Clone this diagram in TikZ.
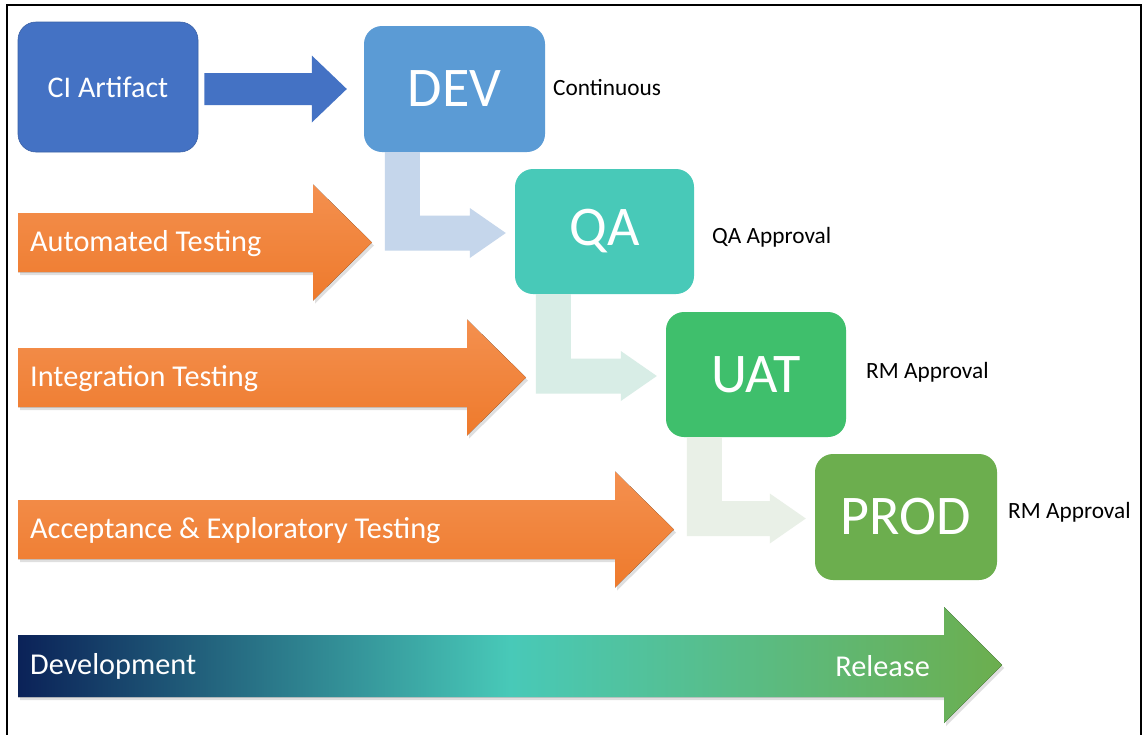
\documentclass[tikz,border=0pt]{standalone}
\usepackage{fontspec}
\setmainfont{Carlito}
\usetikzlibrary{calc,shadows}
\definecolor{ciblue}{HTML}{4472C4}
\definecolor{devblue}{HTML}{5B9BD5}
\definecolor{qateal}{HTML}{48C9B8}
\definecolor{uatgreen}{HTML}{3FBF6C}
\definecolor{prodgreen}{HTML}{6CAE4E}
\definecolor{elbowA}{HTML}{C5D6EB}
\definecolor{elbowB}{HTML}{D8EDE6}
\definecolor{elbowC}{HTML}{E9F0E7}
\definecolor{orangeTop}{HTML}{F4904F}
\definecolor{orangeBot}{HTML}{EE7A2C}
\definecolor{navy}{HTML}{0B2258}
\newcommand{\elbowarrow}[4]{%
  \coordinate (#4s) at ($(#2.south west)+(21,0)$);
  \coordinate (#4t) at ($(#3.west)+(-9,1.5)$);
  \fill[#1] (#4s) -- ++(35,0) |- ($(#4t)+(-36,-17.5)$) -- ($(#4t)+(-36,-25)$) -- (#4t)
     -- ($(#4t)+(-36,25)$) -- ($(#4t)+(-36,17.5)$) -| (#4s) -- cycle;}
\newcommand{\orangearrow}[4]{%
  \fill[top color=orangeTop, bottom color=orangeBot,
        drop shadow={opacity=0.25, shadow xshift=2pt, shadow yshift=-3pt}]
     (18,{#3-29.5}) -- (#2,{#3-29.5}) -- (#2,{#3-58}) -- ({#2+59},#3)
     -- (#2,{#3+58}) -- (#2,{#3+29.5}) -- (18,{#3+29.5}) -- cycle;
  \node[bandtext, anchor=west] (#1) at (30,{#3+1}) {#4};}
\begin{document}
\begin{tikzpicture}[x=1pt,y=-1pt,
  stagebox/.style={rounded corners=18pt, inner sep=0pt, text=white,
                   font=\fontsize{56}{60}\selectfont},
  sidelabel/.style={anchor=west, inner sep=0pt, text=black,
                    font=\fontsize{23.3}{27}\selectfont},
  bandtext/.style={inner sep=0pt, text=white, font=\fontsize{30.3}{35}\selectfont}]
\useasboundingbox (0,0) rectangle (1143,734);
\fill[white] (0,0) rectangle (1143,734);

% stage boxes
\node[stagebox, fill=ciblue, draw=ciblue!85!black, line width=0.6pt,
      minimum width=180pt, minimum height=130pt,
      font=\fontsize{30}{35}\selectfont] (ci) at (108,87) {CI Artifact};
\node[stagebox, fill=devblue, minimum width=181pt, minimum height=126pt] (dev) at (454.5,89) {DEV};
\node[stagebox, fill=qateal, minimum width=179pt, minimum height=125pt] (qa) at (604.5,231.5) {QA};
\node[stagebox, fill=uatgreen, minimum width=180pt, minimum height=125pt] (uat) at (756,374.5) {UAT};
\node[stagebox, fill=prodgreen, minimum width=182pt, minimum height=126pt] (prod) at (906,517) {PROD};

% side labels
\node[sidelabel] (lcont) at (553,88) {Continuous};
\node[sidelabel] (lqa) at (712,237) {QA Approval};
\node[sidelabel] (lrm1) at (866,372) {RM Approval};
\node[sidelabel] (lrm2) at (1008,512) {RM Approval};

% CI -> DEV block arrow
\coordinate (a0) at ($(ci.east)+(6,2)$);
\coordinate (a1) at ($(dev.west)+(-17,0)$);
\fill[ciblue] ($(a0)+(0,-16)$) -- ($(a1)+(-35,-16)$) -- ($(a1)+(-35,-33.5)$) -- (a1)
   -- ($(a1)+(-35,33.5)$) -- ($(a1)+(-35,16)$) -- ($(a0)+(0,16)$) -- cycle;

% elbow arrows between stages
\elbowarrow{elbowA}{dev}{qa}{ea}
\elbowarrow{elbowB}{qa}{uat}{eb}
\elbowarrow{elbowC}{uat}{prod}{ec}

% orange testing arrows
\orangearrow{tauto}{313}{242.5}{Automated Testing}
\orangearrow{tinteg}{467}{377.5}{Integration Testing}
\orangearrow{taccept}{615}{529.5}{Acceptance \& Exploratory Testing}

% development -> release arrow
\fill[left color=navy, right color=prodgreen, middle color=qateal,
      drop shadow={opacity=0.25, shadow xshift=2pt, shadow yshift=-3pt}]
  (18,635) -- (944,635) -- (944,607) -- (1002,665) -- (944,723) -- (944,697) -- (18,697) -- cycle;
\node[bandtext, anchor=west] (devel) at (30,666) {Development};
\node[bandtext, anchor=east] (rel) at (930,666) {Release};

% frame
\draw[line width=2.5pt] (7,740) -- (7,5) -- (1141,5) -- (1141,740);
\end{tikzpicture}
\end{document}
